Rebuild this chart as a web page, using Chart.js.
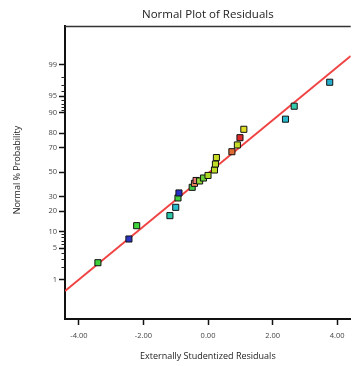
<!DOCTYPE html>
<html><head><meta charset="utf-8">
<script src="https://cdn.jsdelivr.net/npm/chart.js@4"></script>
<style>html,body{margin:0;padding:0;background:#fff;overflow:hidden}canvas{display:block}</style>
</head><body>
<canvas id="c" width="356" height="366"></canvas>
<script>
// ---- data ----
const residuals = [-3.41,-2.45,-2.21,-1.18,-1.00,-0.93,-0.90,-0.49,-0.42,-0.37,-0.26,-0.14,0.00,0.20,0.23,0.26,0.74,0.91,0.99,1.11,2.40,2.67,3.77];
const probabilities = [2.53,7.45,12.4,17.4,22.4,28.9,32.7,37.2,40.5,42.9,42.5,45.0,47.2,51.9,57.0,62.4,67.1,72.2,77.2,82.3,87.4,92.3,97.4];
const fitLineX = [-4.43, 4.42];
const fitLineProb = [0.514, 99.40];
const xTicks = [-4, -2, 0, 2, 4];
const xTickLabels = ['-4.00', '-2.00', '0.00', '2.00', '4.00'];
const yTickProbs = [1, 5, 10, 20, 30, 50, 70, 80, 90, 95, 99];
const yTickLabels = ['1', '5', '10', '20', '30', '50', '70', '80', '90', '95', '99'];
const yMinorProbs = [2, 3, 4, 6, 7, 8, 9, 91, 92, 93, 94, 96, 97, 98];
const titleText = 'Normal Plot of Residuals';
const xTitleText = 'Externally Studentized Residuals';
const yTitleText = 'Normal % Probability';
// ---- styles ----
const pointColors = ['#3fcf3a','#2a34c0','#3ed43a','#2cc6a8','#27bccc','#49cc3e','#2630c8','#3fcc46','#ee8c5a','#ec7a78','#8fd836','#68cc38','#acd928','#bddc26','#bfdc28','#c8dc26','#e06a34','#c6dc28','#dc2a2a','#e0dc26','#27b8cc','#36ccab','#27aecc'];

function probit(p){
  const a=[-3.969683028665376e+01,2.209460984245205e+02,-2.759285104469687e+02,1.383577518672690e+02,-3.066479806614716e+01,2.506628277459239e+00];
  const b=[-5.447609879822406e+01,1.615858368580409e+02,-1.556989798598866e+02,6.680131188771972e+01,-1.328068155288572e+01];
  const c=[-7.784894002430293e-03,-3.223964580411365e-01,-2.400758277161838e+00,-2.549732539343734e+00,4.374664141464968e+00,2.938163982698783e+00];
  const d=[7.784695709041462e-03,3.224671290700398e-01,2.445134137142996e+00,3.754408661907416e+00];
  const pl=0.02425, ph=1-pl; let q,r;
  if(p<pl){q=Math.sqrt(-2*Math.log(p));return (((((c[0]*q+c[1])*q+c[2])*q+c[3])*q+c[4])*q+c[5])/((((d[0]*q+d[1])*q+d[2])*q+d[3])*q+1);}
  if(p<=ph){q=p-0.5;r=q*q;return (((((a[0]*r+a[1])*r+a[2])*r+a[3])*r+a[4])*r+a[5])*q/(((((b[0]*r+b[1])*r+b[2])*r+b[3])*r+b[4])*r+1);}
  q=Math.sqrt(-2*Math.log(1-p));return -(((((c[0]*q+c[1])*q+c[2])*q+c[3])*q+c[4])*q+c[5])/((((d[0]*q+d[1])*q+d[2])*q+d[3])*q+1);
}

const FONT = "'Open Sans', 'DejaVu Sans', sans-serif";

const decor = {
  id: 'decor',
  afterDraw(chart){
    const ctx = chart.ctx, ca = chart.chartArea, ys = chart.scales.y;
    ctx.save();
    // top border
    ctx.strokeStyle = '#333'; ctx.lineWidth = 1.5;
    ctx.beginPath(); ctx.moveTo(ca.left, ca.top + 0.5); ctx.lineTo(ca.right, ca.top + 0.5); ctx.stroke();
    // minor ticks on y axis
    ctx.strokeStyle = '#222'; ctx.lineWidth = 1;
    yMinorProbs.forEach(p => {
      const y = Math.round(ys.getPixelForValue(probit(p/100))) + 0.5;
      ctx.beginPath(); ctx.moveTo(ca.left - 3.5, y); ctx.lineTo(ca.left, y); ctx.stroke();
    });
    // titles
    ctx.fillStyle = '#222';
    ctx.textAlign = 'center'; ctx.textBaseline = 'middle';
    ctx.font = '11.5px ' + FONT;
    ctx.fillText(titleText, (ca.left + ca.right) / 2, 14.5);
    ctx.font = '9px ' + FONT;
    ctx.fillText(xTitleText, (ca.left + ca.right) / 2, 356);
    ctx.translate(17, 170); ctx.rotate(-Math.PI/2);
    ctx.fillText(yTitleText, 0, 0);
    ctx.restore();
  }
};

new Chart(document.getElementById('c'), {
  type: 'scatter',
  data: {
    datasets: [
      {
        type: 'scatter',
        data: residuals.map((x, i) => ({ x, y: probit(probabilities[i] / 100) })),
        pointStyle: 'rect', pointRadius: 4.3,
        pointBackgroundColor: pointColors, pointBorderColor: '#111', pointBorderWidth: 1,
        order: 0
      },
      {
        type: 'line',
        data: fitLineX.map((x, i) => ({ x, y: probit(fitLineProb[i] / 100) })),
        borderColor: '#f04444', borderWidth: 2, pointRadius: 0, fill: false,
        order: 1
      }
    ]
  },
  options: {
    responsive: false, animation: false,
    layout: { padding: { top: 26, left: 0, right: 0, bottom: 0 } },
    plugins: { legend: { display: false }, tooltip: { enabled: false }, title: { display: false } },
    scales: {
      x: {
        type: 'linear', min: -4.43, max: 4.42,
        afterFit: s => { s.height = 47; },
        afterBuildTicks: s => { s.ticks = xTicks.map(v => ({ value: v })); },
        ticks: { callback: (v, i) => xTickLabels[i], font: { family: FONT, size: 7.5 }, color: '#444', padding: 6, maxRotation: 0, autoSkip: false },
        grid: { drawOnChartArea: false, drawTicks: true, tickLength: 6, tickColor: '#111', tickWidth: 1.5 },
        border: { display: true, color: '#111', width: 2 }
      },
      y: {
        type: 'linear', min: -3.171, max: 3.158,
        afterFit: s => { s.width = 65; },
        afterBuildTicks: s => { s.ticks = yTickProbs.map(p => ({ value: probit(p / 100) })); },
        ticks: { callback: (v, i) => yTickLabels[i], font: { family: FONT, size: 7.5 }, color: '#444', padding: 2, autoSkip: false },
        grid: { drawOnChartArea: false, drawTicks: true, tickLength: 6, tickColor: '#111', tickWidth: 1.5 },
        border: { display: true, color: '#111', width: 2 }
      }
    }
  },
  plugins: [decor]
});
</script>
</body></html>
